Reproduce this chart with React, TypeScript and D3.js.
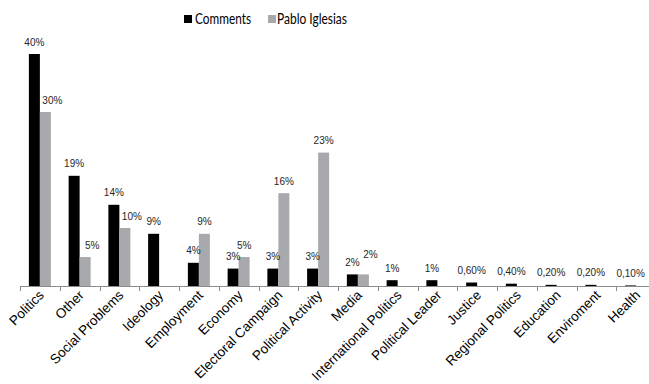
import React from "react";
import * as d3 from "d3";

const categories = [
  "Politics", "Other", "Social Problems", "Ideology", "Employment", "Economy",
  "Electoral Campaign", "Political Activity", "Media", "International Politics",
  "Political Leader", "Justice", "Regional Politics", "Education", "Enviroment", "Health",
];
const comments = [40, 19, 14, 9, 4, 3, 3, 3, 2, 1, 1, 0.6, 0.4, 0.2, 0.2, 0.1];
const pablo = [30, 5, 10, 0, 9, 5, 16, 23, 2, 0, 0, 0, 0, 0, 0, 0];
const seriesNames = ["Comments", "Pablo Iglesias"];
const seriesColors = ["#000000", "#A7A9AC"];

const W = 649;
const H = 384;
const x0 = 20;
const step = 39.75;
const baseY = 286;
const barW = 11;

function fmt(v: number) {
  if (Number.isInteger(v)) return `${v}%`;
  return v.toFixed(2).replace(".", ",") + "%";
}

export default function App() {
  const x = d3.scaleBand<string>().domain(categories).range([x0, x0 + step * categories.length]).padding(0);
  const y = d3.scaleLinear().domain([0, 40]).range([baseY, 54]);
  const series = [comments, pablo];
  const font = "'Liberation Sans', Arial, Helvetica, sans-serif";

  return (
    <svg width={W} height={H} style={{ position: "absolute", left: 0, top: 0, background: "#fff" }}>
      {/* legend */}
      <g fontFamily="Lato, 'Open Sans', sans-serif" fontSize={14.5} fill="#000">
        <rect x={184} y={15} width={8} height={8} fill={seriesColors[0]} />
        <text x={195} y={24} textLength={56} lengthAdjust="spacingAndGlyphs">{seriesNames[0]}</text>
        <rect x={268} y={15} width={8} height={8} fill={seriesColors[1]} />
        <text x={277} y={24} textLength={70} lengthAdjust="spacingAndGlyphs">{seriesNames[1]}</text>
      </g>
      {/* bars */}
      {series.map((vals, si) =>
        vals.map((v, i) => {
          if (v <= 0) return null;
          const c = (x(categories[i]) as number) + x.bandwidth() / 2;
          const bx = si === 0 ? c - barW : c;
          return (
            <rect key={`b${si}-${i}`} x={bx} y={y(v)} width={barW} height={baseY - y(v)} fill={seriesColors[si]} />
          );
        })
      )}
      {/* axis */}
      <line x1={x0} x2={W} y1={baseY + 0.5} y2={baseY + 0.5} stroke="#8c8c8c" strokeWidth={1} />
      {categories.map((cat, i) => {
        const tx = Math.round(x(cat) as number) + 0.5;
        return <line key={`t${i}`} x1={tx} x2={tx} y1={baseY} y2={baseY + 5} stroke="#8c8c8c" />;
      })}
      {/* data labels */}
      <g fontFamily={font} fontSize={10} fill="#262626" textAnchor="middle">
        {series.map((vals, si) =>
          vals.map((v, i) => {
            if (v <= 0) return null;
            const c = (x(categories[i]) as number) + x.bandwidth() / 2;
            const other = comments[i];
            const dodge = si === 1 && v <= other;
            const lx = si === 0 ? c - barW / 2 : c + barW / 2 + (dodge ? 7 : 0);
            const ly = y(v) - 8.5 - (si === 1 && v === other ? 8 : 0);
            return (
              <text key={`l${si}-${i}`} x={lx} y={ly}>
                {fmt(v)}
              </text>
            );
          })
        )}
      </g>
      {/* category labels */}
      <g fontFamily={font} fontSize={13.5} fill="#000" textAnchor="end">
        {categories.map((cat, i) => {
          const c = (x(cat) as number) + x.bandwidth() / 2;
          return (
            <text key={`c${i}`} transform={`translate(${c + 5},${baseY + 10}) rotate(-45)`}>
              {cat}
            </text>
          );
        })}
      </g>
    </svg>
  );
}
